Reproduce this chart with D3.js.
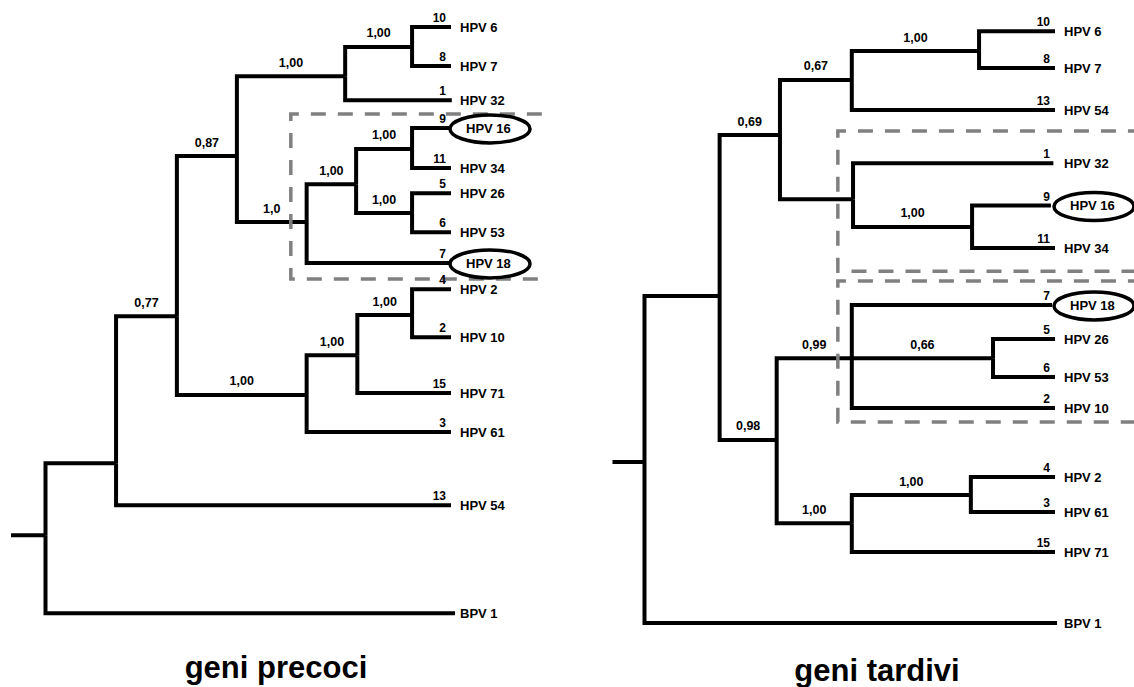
<!DOCTYPE html>
<html>
<head>
<meta charset="utf-8">
<script src="https://d3js.org/d3.v7.min.js"></script>
<style>
    body { margin: 0; background: #ffffff; }
    svg { display: block; font-family: "Liberation Sans", Arial, sans-serif; font-weight: bold; }
</style>
</head>
<body>
<svg id="drawing_region"></svg>
<script>
// tree tables: len = horizontal position of the node, row = vertical slot,
// support = value written on the branch, num = number written over the leaf
const precociNodes = [
    {id: "stub",   parent: null,   len: -0.85, row: 13.55},
    {id: "root",   parent: "stub", len: 0,     row: 13.55},
    {id: "C",      parent: "root", len: 1.74,  row: 11.63},
    {id: "BPV 1",  parent: "root", len: 10.1,  row: 15.63},
    {id: "B",      parent: "C",    len: 3.24,  row: 7.71,  support: "0,77"},
    {id: "HPV 54", parent: "C",    len: 10,    row: 12.75, num: "13"},
    {id: "A",      parent: "B",    len: 4.72,  row: 3.44,  support: "0,87"},
    {id: "G",      parent: "B",    len: 6.44,  row: 9.81,  support: "1,00"},
    {id: "F",      parent: "A",    len: 7.39,  row: 1.31,  support: "1,00"},
    {id: "E",      parent: "F",    len: 9.04,  row: 0.53,  support: "1,00"},
    {id: "HPV 6",  parent: "E",    len: 10,    row: 0,     num: "10"},
    {id: "HPV 7",  parent: "E",    len: 10,    row: 1.04,  num: "8"},
    {id: "HPV 32", parent: "F",    len: 10.02, row: 1.95,  num: "1"},
    {id: "X",      parent: "A",    len: 6.44,  row: 5.2,   support: "1,0"},
    {id: "Y",      parent: "X",    len: 7.66,  row: 4.19,  support: "1,00"},
    {id: "P",      parent: "Y",    len: 9.04,  row: 3.25,  support: "1,00"},
    {id: "HPV 16", parent: "P",    len: 10,    row: 2.69,  num: "9"},
    {id: "HPV 34", parent: "P",    len: 10,    row: 3.76,  num: "11"},
    {id: "Q",      parent: "Y",    len: 9.04,  row: 4.96,  support: "1,00"},
    {id: "HPV 26", parent: "Q",    len: 10,    row: 4.43,  num: "5"},
    {id: "HPV 53", parent: "Q",    len: 10,    row: 5.47,  num: "6"},
    {id: "HPV 18", parent: "X",    len: 10,    row: 6.29,  num: "7"},
    {id: "H",      parent: "G",    len: 7.69,  row: 8.75,  support: "1,00"},
    {id: "I",      parent: "H",    len: 9.04,  row: 7.68,  support: "1,00"},
    {id: "HPV 2",  parent: "I",    len: 10,    row: 6.99,  num: "4"},
    {id: "HPV 10", parent: "I",    len: 10,    row: 8.27,  num: "2"},
    {id: "HPV 71", parent: "H",    len: 10,    row: 9.76,  num: "15"},
    {id: "HPV 61", parent: "G",    len: 10,    row: 10.8,  num: "3"}
];

const tardiviNodes = [
    {id: "stub",   parent: null,   len: -0.78, row: 11.6},
    {id: "root",   parent: "stub", len: 0,     row: 11.6},
    {id: "U",      parent: "root", len: 1.83,  row: 7.17},
    {id: "BPV 1",  parent: "root", len: 10.05, row: 15.89},
    {id: "T",      parent: "U",    len: 3.30,  row: 2.88,  support: "0,69"},
    {id: "K",      parent: "T",    len: 5.05,  row: 1.41,  support: "0,67"},
    {id: "E",      parent: "K",    len: 8.15,  row: 0.64,  support: "1,00"},
    {id: "HPV 6",  parent: "E",    len: 10,    row: 0.11,  num: "10"},
    {id: "HPV 7",  parent: "E",    len: 10,    row: 1.09,  num: "8"},
    {id: "HPV 54", parent: "K",    len: 10,    row: 2.21,  num: "13"},
    {id: "L",      parent: "T",    len: 5.08,  row: 4.59},
    {id: "HPV 32", parent: "L",    len: 9.96,  row: 3.63,  num: "1"},
    {id: "P",      parent: "L",    len: 7.98,  row: 5.33,  support: "1,00"},
    {id: "HPV 16", parent: "P",    len: 9.9,   row: 4.76,  num: "9"},
    {id: "HPV 34", parent: "P",    len: 10,    row: 5.89,  num: "11"},
    {id: "M",      parent: "U",    len: 3.22,  row: 11.01, support: "0,98"},
    {id: "X",      parent: "M",    len: 5.05,  row: 8.83,  support: "0,99"},
    {id: "HPV 18", parent: "X",    len: 9.93,  row: 7.41,  num: "7"},
    {id: "Q",      parent: "X",    len: 8.49,  row: 8.83,  support: "0,66"},
    {id: "HPV 26", parent: "Q",    len: 10,    row: 8.32,  num: "5"},
    {id: "HPV 53", parent: "Q",    len: 10,    row: 9.33,  num: "6"},
    {id: "HPV 10", parent: "X",    len: 10,    row: 10.16, num: "2"},
    {id: "N",      parent: "M",    len: 5.05,  row: 13.23, support: "1,00"},
    {id: "R",      parent: "N",    len: 7.95,  row: 12.48, support: "1,00"},
    {id: "HPV 2",  parent: "R",    len: 10,    row: 12,    num: "4"},
    {id: "HPV 61", parent: "R",    len: 10,    row: 12.93, num: "3"},
    {id: "HPV 71", parent: "N",    len: 10,    row: 14,    num: "15"}
];

const circledLeaves = ["HPV 16", "HPV 18"];

// dashed frames round the high-risk groups, in the same len / row units
const precociBoxes = [
    {left: 6.05, right: 12.24, top: 2.32, bottom: 6.72}
];
const tardiviBoxes = [
    {left: 4.71, right: 12.8, top: 2.77, bottom: 6.51},
    {left: 4.71, right: 12.8, top: 6.77, bottom: 10.53}
];

const panelTitles = ["geni precoci", "geni tardivi"];

class Cladogram {

    constructor( config, nodes, boxes ) {
        this.config = config;
        this.nodes = nodes;
        this.boxes = boxes;
        this.init();
    }

    init() {
        let self = this;

        self.svg = d3.select( self.config.parent );
        self.chart = self.svg.append('g');

        self.xscale = d3.scaleLinear()
            .domain( [0, 10] )
            .range( self.config.xrange );

        self.yscale = d3.scaleLinear()
            .domain( [0, 16] )
            .range( [27, 627] );

        self.label_x = self.xscale( 10 ) + 9;
    }

    update() {
        let self = this;

        self.root = d3.stratify()
            .id( d => d.id )
            .parentId( d => d.parent )( self.nodes );

        self.links = self.root.links();
        self.leaves = self.root.leaves();
        self.inner = self.root.descendants().filter( d => d.data.support );

        self.render();
    }

    render() {
        let self = this;
        const x = d => self.xscale( d.data.len );
        const y = d => self.yscale( d.data.row );
        const circled = d => circledLeaves.includes( d.data.id );

        self.chart.selectAll(".branch")
            .data( self.links )
            .join("path")
            .attr("class", "branch")
            .attr("d", d => `M${x(d.source)},${y(d.source)}V${y(d.target)}H${x(d.target)}`)
            .attr("fill", "none")
            .attr("stroke", "#000")
            .attr("stroke-width", 4)
            .attr("stroke-linejoin", "miter")
            .attr("stroke-linecap", "butt");

        self.chart.selectAll(".frame")
            .data( self.boxes )
            .join("path")
            .attr("class", "frame")
            .attr("d", d => {
                const x0 = self.xscale( d.left ), x1 = self.xscale( d.right );
                const y0 = self.yscale( d.top ), y1 = self.yscale( d.bottom );
                return `M${x1},${y0}H${x0}V${y1}H${x1}`;
            })
            .attr("fill", "none")
            .attr("stroke", "#808080")
            .attr("stroke-width", 3.5)
            .attr("stroke-dasharray", "15,12");

        self.chart.selectAll(".support")
            .data( self.inner )
            .join("text")
            .attr("class", "support")
            .attr("x", d => ( x(d.parent) + x(d) ) / 2)
            .attr("y", d => y(d) - 9.5)
            .attr("text-anchor", "middle")
            .attr("font-size", "12.5px")
            .text( d => d.data.support );

        self.chart.selectAll(".count")
            .data( self.leaves.filter( d => d.data.num ) )
            .join("text")
            .attr("class", "count")
            .attr("x", self.xscale( 10 ) - 5)
            .attr("y", d => y(d) - 5)
            .attr("text-anchor", "end")
            .attr("font-size", "12px")
            .text( d => d.data.num );

        self.chart.selectAll(".leaf")
            .data( self.leaves )
            .join("text")
            .attr("class", "leaf")
            .attr("x", d => circled(d) ? self.label_x + 6 : self.label_x)
            .attr("y", d => y(d) + 4.7)
            .attr("font-size", "13px")
            .text( d => d.data.id );

        self.chart.selectAll(".ring")
            .data( self.leaves.filter( circled ) )
            .join("ellipse")
            .attr("class", "ring")
            .attr("cx", self.label_x + 30)
            .attr("cy", d => y(d) + 1)
            .attr("rx", 40)
            .attr("ry", 14)
            .attr("fill", "none")
            .attr("stroke", "#000")
            .attr("stroke-width", 3.5);

        self.chart.append("text")
            .attr("x", self.config.title_x)
            .attr("y", self.config.title_y)
            .attr("text-anchor", "middle")
            .attr("font-size", "31px")
            .text( self.config.title );
    }
}

d3.select('#drawing_region')
    .attr('width', 1134)
    .attr('height', 687);

const left_tree = new Cladogram({
    parent: '#drawing_region',
    xrange: [45.5, 451],
    title: panelTitles[0],
    title_x: 276,
    title_y: 678
}, precociNodes, precociBoxes);
left_tree.update();

const right_tree = new Cladogram({
    parent: '#drawing_region',
    xrange: [644.5, 1055],
    title: panelTitles[1],
    title_x: 877,
    title_y: 681
}, tardiviNodes, tardiviBoxes);
right_tree.update();
</script>
</body>
</html>
